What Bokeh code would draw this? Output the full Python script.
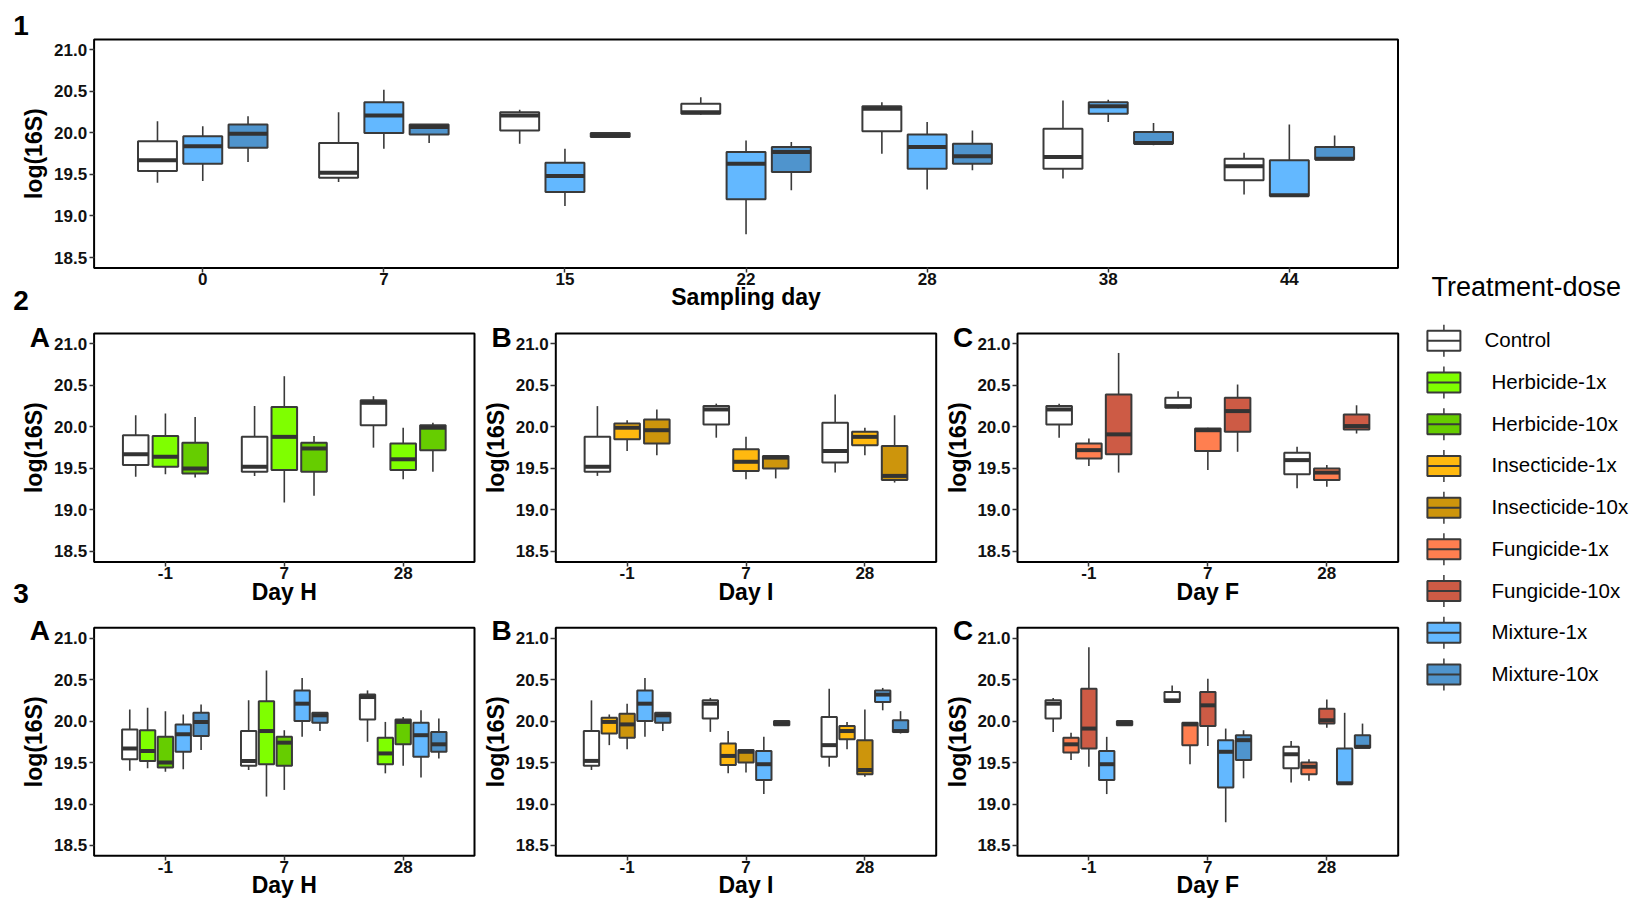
import math
from bokeh.plotting import figure
from bokeh.models import Range1d, FixedTicker, PrintfTickFormatter, LinearAxis, ColumnDataSource
from bokeh.embed import file_html
from bokeh.resources import INLINE
from bokeh.core.properties import value

FONT = "Liberation Sans"
EDGE = "#3a3a3a"

# ---------------- data ----------------
sampling_days = ["0", "7", "15", "22", "28", "38", "44"]
relative_days = ["-1", "7", "28"]

group_names = ["Control", "Herbicide-1x", "Herbicide-10x", "Insecticide-1x", "Insecticide-10x",
               "Fungicide-1x", "Fungicide-10x", "Mixture-1x", "Mixture-10x"]
group_colors = ["#FFFFFF", "#7FFF00", "#66CD00", "#FFB90F", "#CD950C",
                "#FF7F50", "#CD5B45", "#63B8FF", "#4F94CD"]

# (lower whisker, Q1, median, Q3, upper whisker) for each sampling day
control = [(19.40, 19.54, 19.67, 19.90, 20.14), (19.41, 19.46, 19.52, 19.88, 20.25),
           (19.87, 20.03, 20.21, 20.25, 20.28), (20.22, 20.23, 20.25, 20.35, 20.43),
           (19.75, 20.02, 20.29, 20.32, 20.37), (19.45, 19.57, 19.71, 20.05, 20.39),
           (19.26, 19.43, 19.60, 19.69, 19.76)]
mixture_1x = [(19.42, 19.63, 19.84, 19.96, 20.08), (19.81, 20.00, 20.21, 20.37, 20.52),
              (19.12, 19.29, 19.48, 19.64, 19.81), (18.78, 19.20, 19.63, 19.77, 19.91),
              (19.32, 19.57, 19.83, 19.98, 20.13), (20.13, 20.23, 20.32, 20.37, 20.40),
              (19.24, 19.24, 19.25, 19.67, 20.10)]
mixture_10x = [(19.65, 19.82, 19.99, 20.10, 20.20), (19.88, 19.98, 20.07, 20.10, 20.10),
               (19.95, 19.95, 19.97, 20.00, 20.01), (19.31, 19.53, 19.77, 19.83, 19.89),
               (19.55, 19.63, 19.72, 19.87, 20.03), (19.85, 19.87, 19.88, 20.01, 20.12),
               (19.68, 19.68, 19.69, 19.83, 19.97)]

# for relative days -1, 7, 28
herbicide_1x = [(19.43, 19.52, 19.64, 19.89, 20.16), (19.09, 19.48, 19.88, 20.24, 20.61),
                (19.37, 19.48, 19.61, 19.80, 19.99)]
herbicide_10x = [(19.39, 19.44, 19.50, 19.81, 20.12), (19.17, 19.46, 19.74, 19.81, 19.89),
                 (19.46, 19.72, 19.99, 20.02, 20.05)]
insecticide_1x = [(19.71, 19.85, 19.99, 20.04, 20.08), (19.37, 19.47, 19.58, 19.73, 19.88),
                  (19.66, 19.78, 19.88, 19.94, 19.99)]
insecticide_10x = [(19.66, 19.80, 19.96, 20.09, 20.21), (19.38, 19.50, 19.63, 19.65, 19.65),
                   (19.33, 19.36, 19.41, 19.77, 20.14)]
fungicide_1x = [(19.53, 19.62, 19.72, 19.80, 19.86), (19.48, 19.71, 19.96, 19.98, 19.99),
                (19.28, 19.36, 19.45, 19.50, 19.54)]
fungicide_10x = [(19.45, 19.67, 19.91, 20.39, 20.89), (19.70, 19.94, 20.19, 20.35, 20.51),
                 (19.92, 19.97, 20.01, 20.15, 20.26)]

# sampling-day index matching relative days -1, 7, 28 of each treatment
day_index_H = [0, 1, 4]
day_index_I = [1, 2, 5]
day_index_F = [2, 3, 6]

y_ticks = [18.5, 19.0, 19.5, 20.0, 20.5, 21.0]
YLO, YHI = 18.375, 21.125


def pick(stats, idx):
    return [stats[i] for i in idx]


# ---------------- canvas ----------------
W, H = 1633, 900
S = H / 901.0


def X(px):
    return px


def Y(py):
    return H - py * S


p = figure(width=W, height=H, x_range=Range1d(0, W), y_range=Range1d(0, H),
           x_axis_type=None, y_axis_type=None, toolbar_location=None, tools="",
           output_backend="svg", min_border=0, title=None)
p.outline_line_color = None
p.background_fill_color = "white"
p.border_fill_color = "white"


def add_text(x, y, s, size, bold=True, align="center", baseline="middle", angle=0.0):
    p.text(x=[x], y=[y], text=[s], angle=angle, text_font=value(FONT),
           text_font_size=value(size), text_font_style="bold" if bold else "normal",
           text_align=align, text_baseline=baseline, text_color="black")


def style_axis(ax):
    ax.axis_line_color = None
    ax.major_tick_line_color = "#333333"
    ax.major_tick_line_width = 1.5
    ax.major_tick_out = 5
    ax.major_tick_in = 0
    ax.minor_tick_line_color = None
    ax.major_label_text_font = FONT
    ax.major_label_text_font_style = "bold"
    ax.major_label_text_font_size = "17px"
    ax.major_label_text_color = "#111111"


def panel(key, box, xlabels, series, xtitle, title_mid):
    pl, pr, pt, pb = box
    L, R, T, B = X(pl), X(pr), Y(pt), Y(pb)
    ncat = len(xlabels)
    xlo, xhi = 0.4, ncat + 0.6
    kx = (xhi - xlo) / (R - L)
    ky = (YHI - YLO) / (T - B)
    xn, yn = "x" + key, "y" + key
    p.extra_x_ranges[xn] = Range1d(xlo - L * kx, xhi + (W - R) * kx)
    p.extra_y_ranges[yn] = Range1d(YLO - B * ky, YHI + (H - T) * ky)

    n = len(series)
    step = 0.75 / n
    bw = 0.86 * step
    for g, (name, stats) in enumerate(series):
        color = group_colors[group_names.index(name)]
        xs = [i + 1 + (g - (n - 1) / 2) * step for i in range(len(stats))]
        src = ColumnDataSource(dict(
            x=xs, x0=[x - bw / 2 for x in xs], x1=[x + bw / 2 for x in xs],
            lo=[s[0] for s in stats], q1=[s[1] for s in stats], med=[s[2] for s in stats],
            q3=[s[3] for s in stats], hi=[s[4] for s in stats]))
        p.segment(x0="x", y0="lo", x1="x", y1="hi", source=src, line_color=EDGE,
                  line_width=1.6, x_range_name=xn, y_range_name=yn)
        p.vbar(x="x", width=bw, bottom="q1", top="q3", source=src, fill_color=color,
               line_color=EDGE, line_width=2, x_range_name=xn, y_range_name=yn)
        p.segment(x0="x0", y0="med", x1="x1", y1="med", source=src, line_color="#333333",
                  line_width=4, x_range_name=xn, y_range_name=yn)

    # panel frame
    p.quad(left=[xlo], right=[xhi], bottom=[YLO], top=[YHI], fill_color=None,
           line_color="black", line_width=2, x_range_name=xn, y_range_name=yn)

    yax = LinearAxis(x_range_name=xn, y_range_name=yn, fixed_location=xlo, bounds=(YLO, YHI),
                     ticker=FixedTicker(ticks=y_ticks),
                     formatter=PrintfTickFormatter(format="%.1f"))
    xax = LinearAxis(x_range_name=xn, y_range_name=yn, fixed_location=YLO, bounds=(xlo, xhi),
                     ticker=FixedTicker(ticks=list(range(1, ncat + 1))),
                     major_label_overrides={i + 1: lab for i, lab in enumerate(xlabels)})
    style_axis(yax)
    style_axis(xax)
    yax.major_label_standoff = 2
    xax.major_label_standoff = 0
    p.add_layout(yax, "left")
    p.add_layout(xax, "below")

    add_text(X(pl - 59.7), (T + B) / 2, "log(16S)", "23px", angle=math.pi / 2)
    add_text((L + R) / 2, Y(title_mid), xtitle, "23px")


# ---------------- panel 1 ----------------
panel("1", (93.6, 1397.5, 39.0, 267.7), sampling_days,
      [("Control", control), ("Mixture-1x", mixture_1x), ("Mixture-10x", mixture_10x)],
      "Sampling day", 296.5)

# ---------------- panels 2 and 3 ----------------
treatments = [
    ("H", day_index_H, "Herbicide-1x", herbicide_1x, "Herbicide-10x", herbicide_10x, "A", 93.6, 474.0),
    ("I", day_index_I, "Insecticide-1x", insecticide_1x, "Insecticide-10x", insecticide_10x, "B", 555.3, 935.7),
    ("F", day_index_F, "Fungicide-1x", fungicide_1x, "Fungicide-10x", fungicide_10x, "C", 1017.0, 1397.7),
]
for code, idx, n1, s1, n10, s10, letter, pl, pr in treatments:
    ctrl = pick(control, idx)
    panel("2" + code, (pl, pr, 333.3, 562.0), relative_days,
          [("Control", ctrl), (n1, s1), (n10, s10)], "Day " + code, 592.3)
    panel("3" + code, (pl, pr, 628.0, 856.3), relative_days,
          [("Control", ctrl), (n1, s1), (n10, s10),
           ("Mixture-1x", pick(mixture_1x, idx)), ("Mixture-10x", pick(mixture_10x, idx))],
          "Day " + code, 885.5)
    add_text(X(pl - 54.3), Y(337.0), letter, "28px")
    add_text(X(pl - 54.3), Y(631.0), letter, "28px")

add_text(X(20.5), Y(25.0), "1", "28px")
add_text(X(20.5), Y(300.0), "2", "28px")
add_text(X(20.5), Y(594.0), "3", "28px")

# ---------------- legend ----------------
add_text(X(1431.0), Y(286.7), "Treatment-dose", "27px", bold=False, align="left")

key_y = [Y(340.7 + 41.75 * i) for i in range(len(group_names))]
kx, kw, kh = X(1443.4), 33, 20
lsrc = ColumnDataSource(dict(
    y=key_y, top=[y + kh / 2 for y in key_y], bot=[y - kh / 2 for y in key_y],
    wt=[y + 16 for y in key_y], wb=[y - 16 for y in key_y],
    color=group_colors, name=group_names,
    tx=[X(1484.0) if i == 0 else X(1491.0) for i in range(len(group_names))],
    ty=[y + 1 for y in key_y]))
p.segment(x0=kx, y0="wt", x1=kx, y1="wb", source=lsrc, line_color=EDGE, line_width=1.5)
p.quad(left=kx - kw / 2, right=kx + kw / 2, top="top", bottom="bot", source=lsrc,
       fill_color="color", line_color=EDGE, line_width=2)
p.segment(x0=kx - kw / 2, y0="y", x1=kx + kw / 2, y1="y", source=lsrc,
          line_color=EDGE, line_width=2)
p.text(x="tx", y="ty", text="name", source=lsrc, text_font=value(FONT),
       text_font_size=value("20.5px"), text_baseline="middle", text_align="left",
       text_color="black")

open("out.html", "w").write(file_html(p, INLINE, title="log(16S) by treatment-dose"))
